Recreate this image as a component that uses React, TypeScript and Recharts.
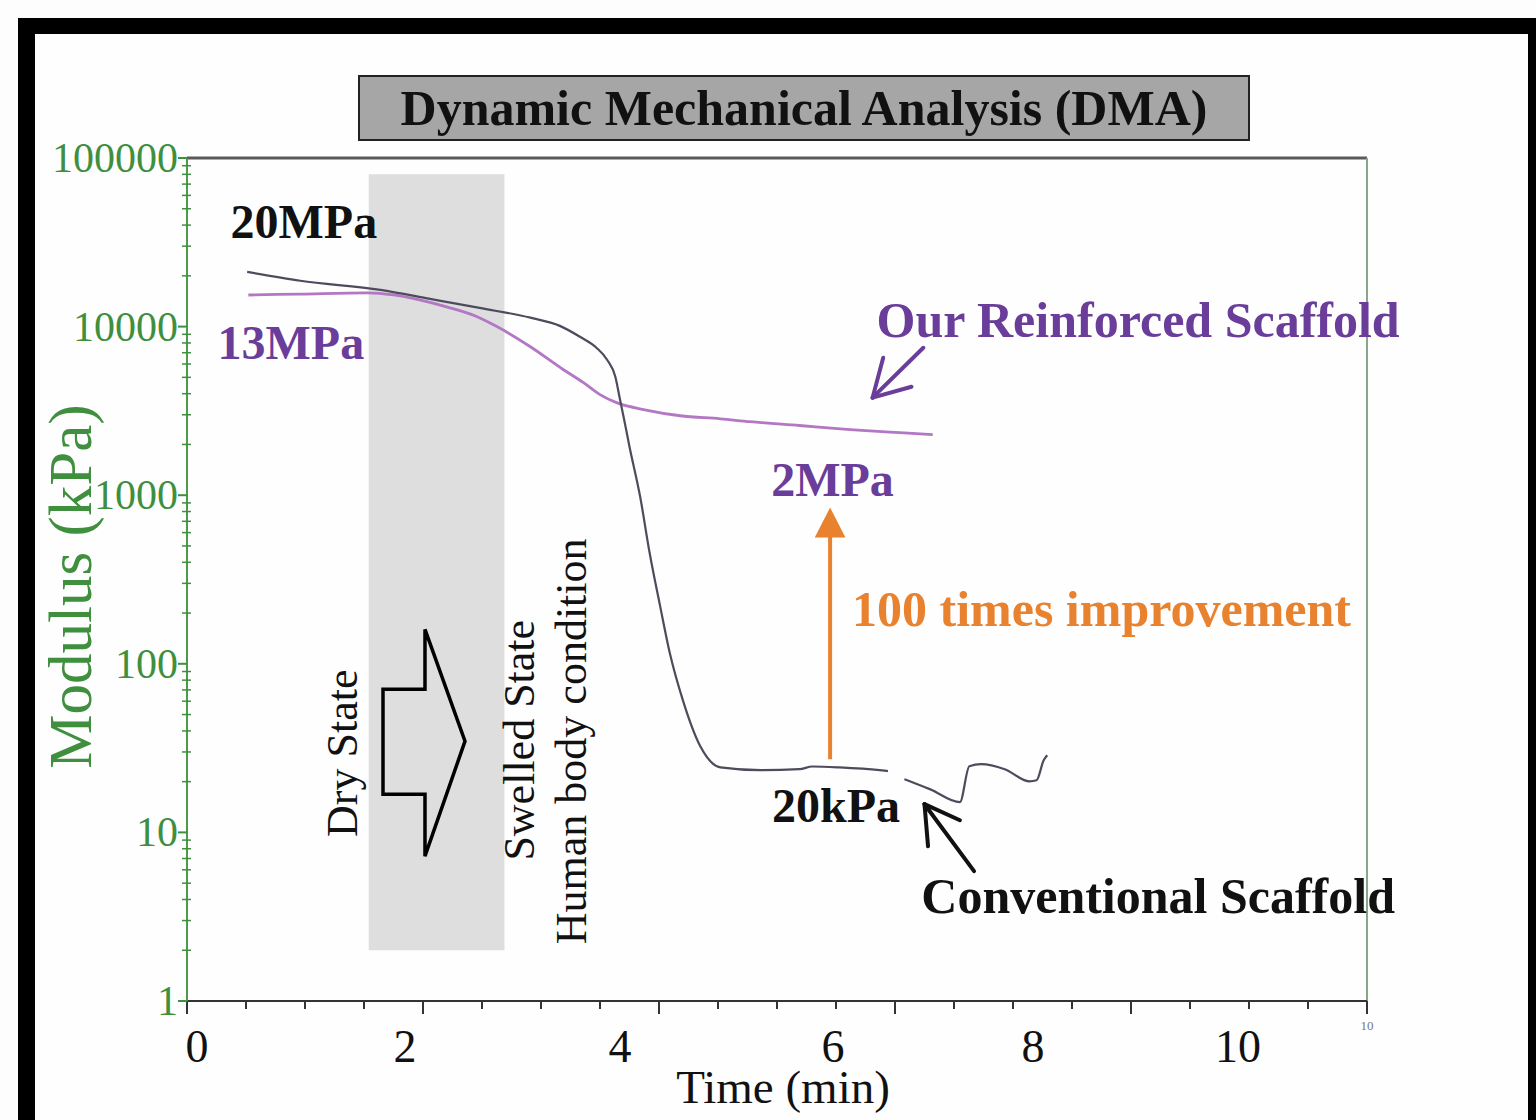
import React from 'react';
import { LineChart, Line, XAxis, YAxis, ReferenceArea, ReferenceLine, ReferenceDot } from 'recharts';

// ---------- data (time in min, modulus in kPa) ----------
const convTime = [0.51, 0.96, 1.64, 2.06, 2.48, 2.91, 3.16, 3.33, 3.47, 3.56, 3.63, 3.67, 3.71, 3.75, 3.84, 3.92, 4.01, 4.09, 4.2, 4.35, 4.52, 4.86, 5.19, 5.3, 5.53, 5.87, 5.94, 6.0, 6.08, 6.3, 6.55, 6.63, 6.73, 6.93, 7.14, 7.2, 7.26, 7.29];
const convModulus = [21100, 18700, 16500, 14600, 12900, 11300, 10100, 8700, 7490, 6360, 5040, 3680, 2690, 1940, 982, 457, 219, 117, 61.5, 32.4, 24.3, 23.4, 23.7, 24.6, 24.3, 23.4, 23.1, null, 20.7, 18.0, 15.1, 24.7, 25.4, 23.7, 20.1, 20.4, 26.8, 28.7];

const reinfTime = [0.52, 0.96, 1.53, 1.75, 1.97, 2.2, 2.44, 2.63, 2.91, 3.19, 3.36, 3.5, 3.64, 3.88, 4.18, 4.52, 4.77, 5.19, 5.62, 6.04, 6.32];
const reinfModulus = [15400, 15600, 15850, 15400, 14400, 13100, 11600, 9970, 7590, 5550, 4650, 3950, 3540, 3210, 2960, 2840, 2730, 2590, 2450, 2350, 2290];

// ---------- ticks ----------
const xTickMarks = [0, 0.5, 1, 1.5, 2, 2.5, 3, 3.5, 4, 4.5, 5, 5.5, 6, 6.5, 7, 7.5, 8, 8.5, 9, 9.5, 10];
// the printed tick labels sit at these time positions in the figure
const xTickLabelText = ['0', '2', '4', '6', '8', '10'];
const xTickLabelPos = [0.085, 1.847, 3.669, 5.475, 7.17, 8.907];
const yMajorTicks = [1, 10, 100, 1000, 10000, 100000];
const yMinorFactors = [2, 3, 4, 5, 6, 7, 8, 9];
const yAllTicks = [
  ...yMajorTicks,
  ...yMajorTicks.slice(0, -1).flatMap((d) => yMinorFactors.map((f) => d * f)),
].sort((a, b) => a - b);
const xAllTicks = [...xTickMarks, ...xTickLabelPos].sort((a, b) => a - b);

// ---------- annotations (data coordinates) ----------
const textNotes = [
  { text: '20MPa', x: 0.99, y: 41800, color: '#111111', size: 48 },
  { text: '13MPa', x: 0.88, y: 8020, color: '#6a3d9a', size: 48 },
  { text: 'Our Reinforced Scaffold', x: 8.06, y: 10970, color: '#6a3d9a', size: 50 },
  { text: '2MPa', x: 5.47, y: 1237, color: '#6a3d9a', size: 48 },
  { text: '100 times improvement', x: 7.75, y: 210, color: '#e8822e', size: 50 },
  { text: '20kPa', x: 5.5, y: 14.5, color: '#111111', size: 48 },
  { text: 'Conventional Scaffold', x: 8.23, y: 4.19, color: '#111111', size: 50 },
];
const rotatedNotes = [
  { text: 'Dry State', x: 1.32, y: 29.5 },
  { text: 'Swelled State', x: 2.82, y: 35.2 },
  { text: 'Human body condition', x: 3.26, y: 34.7 },
];
const purpleArrow = [
  [{ x: 6.24, y: 7490 }, { x: 5.81, y: 3790 }],
  [{ x: 5.81, y: 3790 }, { x: 6.14, y: 4400 }],
  [{ x: 5.81, y: 3790 }, { x: 5.9, y: 6530 }],
];
const blackArrow = [
  [{ x: 6.67, y: 5.89 }, { x: 6.25, y: 14.7 }],
  [{ x: 6.25, y: 14.7 }, { x: 6.55, y: 11.8 }],
  [{ x: 6.25, y: 14.7 }, { x: 6.28, y: 8.28 }],
];
const orangeShaft = [{ x: 5.45, y: 27.2 }, { x: 5.45, y: 600 }];
const orangeHead = { x1: 5.32, x2: 5.58, y1: 561, y2: 845 };
const grayBand = { x1: 1.54, x2: 2.69, y1: 2, y2: 80000 };
const blockArrowBox = { x1: 1.661, x2: 2.356, y1: 7.23, y2: 160 };

const FONT = "'Liberation Serif', 'Times New Roman', Times, serif";
const GREEN = '#3f8f3f';

const convData = convTime.map((t, i) => ({ t, m: convModulus[i] }));
const reinfData = reinfTime.map((t, i) => ({ t, m: reinfModulus[i] }));

function YTick(props: any) {
  const { x, y, payload } = props;
  const v = payload.value;
  if (yMajorTicks.includes(v)) {
    return (
      <g>
        <line x1={x - 9} x2={x} y1={y} y2={y} stroke={GREEN} strokeWidth={2} />
        <text x={x - 9} y={y} textAnchor="end" dominantBaseline="central" fontFamily={FONT} fontSize={42} fill={GREEN}>
          {v}
        </text>
      </g>
    );
  }
  return <line x1={x - 5} x2={x + 4} y1={y} y2={y} stroke={GREEN} strokeWidth={1.5} />;
}

function XTick(props: any) {
  const { x, y, payload } = props;
  const v = payload.value;
  const li = xTickLabelPos.indexOf(v);
  if (li >= 0) {
    return (
      <text x={x} y={y + 61} textAnchor="middle" fontFamily={FONT} fontSize={46} fill="#111">
        {xTickLabelText[li]}
      </text>
    );
  }
  const major = v % 2 === 0;
  return (
    <g>
      <line x1={x} x2={x} y1={y} y2={y + (major ? 13 : 8)} stroke="#333" strokeWidth={2} />
      {v === 10 && (
        <text x={x} y={y + 29} textAnchor="middle" fontFamily={FONT} fontSize={13} fill="#777">
          10
        </text>
      )}
    </g>
  );
}

function YTitle(props: any) {
  const vb = props.viewBox;
  const cx = vb.x + 70;
  const cy = vb.y + vb.height / 2 + 7;
  return (
    <text x={cx} y={cy} transform={`rotate(-90 ${cx} ${cy})`} textAnchor="middle" dominantBaseline="central" fontFamily={FONT} fontSize={61} fill={GREEN}>
      Modulus (kPa)
    </text>
  );
}

function XTitle(props: any) {
  const vb = props.viewBox;
  return (
    <text x={vb.x + vb.width / 2 + 6} y={vb.y + 102} textAnchor="middle" fontFamily={FONT} fontSize={47} fill="#111">
      Time (min)
    </text>
  );
}

export default function App() {
  return (
    <div style={{ position: 'absolute', left: 0, top: 0, width: 1536, height: 1120, background: '#fdfdfd', overflow: 'hidden' }}>
      <div
        style={{
          position: 'absolute',
          left: 18,
          top: 18,
          width: 1536 - 18 - 17 - 8,
          height: 1200,
          borderTop: '16px solid #000',
          borderLeft: '17px solid #000',
          borderRight: '8px solid #000',
          background: '#fefefe',
        }}
      />
      <div style={{ position: 'absolute', left: 0, top: 0 }}>
        <LineChart width={1536} height={1120} margin={{ top: 158, right: 169, bottom: 0, left: 0 }}>
          <ReferenceArea x1={grayBand.x1} x2={grayBand.x2} y1={grayBand.y1} y2={grayBand.y2} fill="#dedede" fillOpacity={1} stroke="none" />
          <ReferenceLine y={100000} stroke="#5a5a5a" strokeWidth={3} />
          <ReferenceLine x={10} stroke="#86a886" strokeWidth={2} />
          <XAxis
            type="number"
            dataKey="t"
            domain={[0, 10]}
            allowDataOverflow
            ticks={xAllTicks}
            interval={0}
            tickSize={0}
            tickMargin={0}
            tickLine={false}
            tick={<XTick />}
            height={119}
            axisLine={{ stroke: '#333', strokeWidth: 2 }}
            label={<XTitle />}
          />
          <YAxis
            type="number"
            scale="log"
            domain={[1, 100000]}
            allowDataOverflow
            ticks={yAllTicks}
            interval={0}
            width={187}
            tickSize={0}
            tickMargin={0}
            tickLine={false}
            tick={<YTick />}
            axisLine={{ stroke: '#4c9a4c', strokeWidth: 2 }}
            label={<YTitle />}
          />
          <ReferenceArea
            x1={blockArrowBox.x1}
            x2={blockArrowBox.x2}
            y1={blockArrowBox.y1}
            y2={blockArrowBox.y2}
            shape={(p: any) => {
              const { x, y, width: w, height: h } = p;
              const b = x + 0.512 * w;
              const d = `M${x},${y + 0.264 * h} L${b},${y + 0.264 * h} L${b},${y} L${x + w},${y + 0.493 * h} L${b},${y + h} L${b},${y + 0.727 * h} L${x},${y + 0.727 * h} Z`;
              return <path d={d} fill="none" stroke="#000" strokeWidth={3.5} strokeLinejoin="miter" />;
            }}
          />
          <Line data={reinfData} dataKey="m" type="monotone" stroke="#b377c4" strokeWidth={2.8} dot={false} isAnimationActive={false} />
          <Line data={convData} dataKey="m" type="monotone" stroke="#4d4b5c" strokeWidth={2.2} dot={false} isAnimationActive={false} />
          <ReferenceLine segment={orangeShaft} stroke="#e8822e" strokeWidth={4} />
          <ReferenceArea
            x1={orangeHead.x1}
            x2={orangeHead.x2}
            y1={orangeHead.y1}
            y2={orangeHead.y2}
            shape={(p: any) => {
              const { x, y, width: w, height: h } = p;
              return <path d={`M${x},${y + h} L${x + w / 2},${y} L${x + w},${y + h} Z`} fill="#e8822e" stroke="none" />;
            }}
          />
          {purpleArrow.map((seg, i) => (
            <ReferenceLine key={'pa' + i} segment={seg} stroke="#6a3d9a" strokeWidth={4} strokeLinecap="round" />
          ))}
          {blackArrow.map((seg, i) => (
            <ReferenceLine key={'ba' + i} segment={seg} stroke="#111" strokeWidth={4} strokeLinecap="round" />
          ))}
          {textNotes.map((n, i) => (
            <ReferenceDot
              key={'tn' + i}
              x={n.x}
              y={n.y}
              r={0}
              shape={(p: any) => (
                <text x={p.cx} y={p.cy} textAnchor="middle" dominantBaseline="central" fontFamily={FONT} fontWeight="bold" fontSize={n.size} fill={n.color}>
                  {n.text}
                </text>
              )}
            />
          ))}
          {rotatedNotes.map((n, i) => (
            <ReferenceDot
              key={'rn' + i}
              x={n.x}
              y={n.y}
              r={0}
              shape={(p: any) => (
                <text
                  x={p.cx}
                  y={p.cy}
                  transform={`rotate(-90 ${p.cx} ${p.cy})`}
                  textAnchor="middle"
                  dominantBaseline="central"
                  fontFamily={FONT}
                  fontSize={44}
                  fill="#111"
                >
                  {n.text}
                </text>
              )}
            />
          ))}
        </LineChart>
      </div>
      <div
        style={{
          position: 'absolute',
          left: 358,
          top: 75,
          width: 888,
          height: 62,
          background: '#a6a6a6',
          border: '2px solid #222',
          display: 'flex',
          alignItems: 'center',
          justifyContent: 'center',
          fontFamily: FONT,
          fontWeight: 'bold',
          fontSize: 50,
          color: '#111',
          lineHeight: 1,
        }}
      >
        Dynamic Mechanical Analysis (DMA)
      </div>
    </div>
  );
}
